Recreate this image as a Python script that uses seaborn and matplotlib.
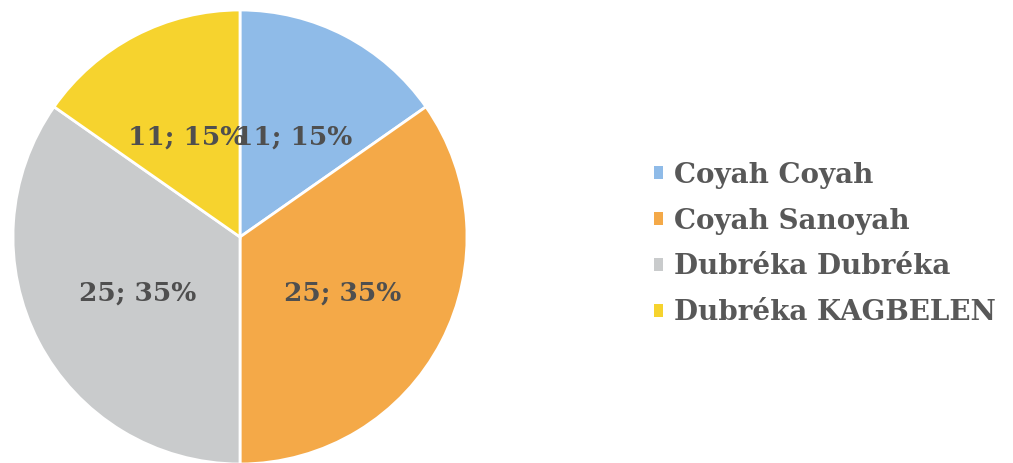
import matplotlib
matplotlib.use("Agg")
import matplotlib.pyplot as plt
import seaborn as sns

# values
sites = ["Coyah Coyah", "Coyah Sanoyah", "Dubréka Dubréka", "Dubréka KAGBELEN"]
counts = [11, 25, 25, 11]
percents = [15, 35, 35, 15]
slice_colors = ["#8fbbe8", "#f4a948", "#c9cbcc", "#f6d32e"]

sns.set_theme(style="white")
plt.rcParams["font.family"] = ["DejaVu Serif", "DejaVu Sans"]

W, H = 1013, 463
fig = plt.figure(figsize=(W / 100, H / 100), dpi=100)

# pie centre ~(240, 237) px, radius ~227 px
cx, cy, r = 240, 237, 227
ax = fig.add_axes([(cx - r) / W, (H - cy - r) / H, 2 * r / W, 2 * r / H])

labels = [f"{c}; {p}%" for c, p in zip(counts, percents)]
wedges, texts = ax.pie(
    counts,
    colors=slice_colors,
    startangle=90,
    counterclock=False,
    labels=labels,
    labeldistance=0.51,
    wedgeprops=dict(edgecolor="white", linewidth=2),
    textprops=dict(fontsize=19, fontweight="bold", color="#4f4f4f"),
)
for t in texts:
    t.set_horizontalalignment("center")
    t.set_verticalalignment("center_baseline")
ax.set_xlim(-1, 1)
ax.set_ylim(-1, 1)
ax.set_aspect("equal")
ax.axis("off")

leg = fig.legend(
    wedges,
    sites,
    loc="center left",
    bbox_to_anchor=(629 / W, 1 - 244 / H),
    frameon=False,
    handlelength=0.33,
    handleheight=0.33,
    handletextpad=0.4,
    labelspacing=0.68,
    prop=dict(family="DejaVu Serif", weight="bold", size=20),
)
for t in leg.get_texts():
    t.set_color("#585858")
for h in leg.legend_handles:
    h.set_edgecolor("none")

fig.savefig("out.png", dpi=100)
